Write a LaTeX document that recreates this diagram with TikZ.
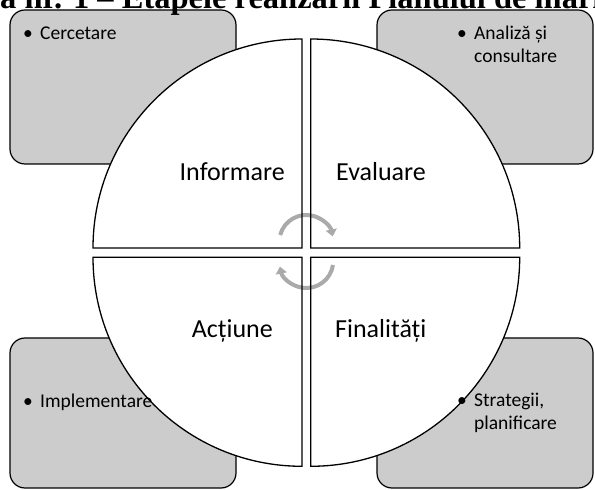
\documentclass[tikz,border=0pt]{standalone}
\usepackage{fontspec}
\setmainfont{Carlito}
\newfontfamily\titlefont{Liberation Serif}
\usetikzlibrary{arrows.meta}
\definecolor{boxgray}{RGB}{204,204,204}
\definecolor{arrowgray}{RGB}{170,170,170}
\begin{document}
\begin{tikzpicture}[x=1pt,y=1pt,
  card/.style={draw=black, line width=1.2pt, fill=boxgray, rounded corners=15pt},
  quadfill/.style={fill=white},
  quadline/.style={draw=black, line width=1.3pt, line join=miter},
  cyc/.style={draw=arrowgray, line width=4pt, -{Triangle[length=7pt,width=11pt]}},
  lbl/.style={inner sep=0pt, font=\fontsize{26}{31}\selectfont},
  item/.style={inner sep=0pt, align=left, font=\fontsize{19.5}{23}\selectfont},
  ttl/.style={inner sep=0pt, font=\titlefont\bfseries\fontsize{32.5}{38}\selectfont}]
\useasboundingbox (0,0) rectangle (595,490);
\clip (0,0) rectangle (595,490);
\fill[white] (0,0) rectangle (595,490);

% gray cards
\path[card] (10,480) rectangle (236,326);
\path[card] (377,480) rectangle (593,326);
\path[card] (10,152) rectangle (236,2);
\path[card] (377,152) rectangle (593,2);

% quadrants
\def\R{209}
\path[quadfill] (302,242) -- (302,451) arc (90:180:\R) -- cycle;
\path[quadfill] (310.7,242) -- (519.7,242) arc (0:90:\R) -- cycle;
\path[quadfill] (302,232.7) -- (93,232.7) arc (180:270:\R) -- cycle;
\path[quadfill] (310.7,232.7) -- (310.7,23.7) arc (270:360:\R) -- cycle;

% cycle arrows
\draw[cyc] (280.2,255) arc (165:12:27);
\draw[cyc] (333,225) arc (-8.5:-168:27);

\path[quadline] (302,242) -- (302,451) arc (90:180:\R) -- cycle;
\path[quadline] (310.7,242) -- (519.7,242) arc (0:90:\R) -- cycle;
\path[quadline] (302,232.7) -- (93,232.7) arc (180:270:\R) -- cycle;
\path[quadline] (310.7,232.7) -- (310.7,23.7) arc (270:360:\R) -- cycle;

% quadrant labels
\node[lbl, anchor=base east] (informare) at (285,309) {Informare};
\node[lbl, anchor=base west] (evaluare) at (336,309) {Evaluare};
\node[lbl, anchor=base east] (actiune) at (273,152) {Acțiune};
\node[lbl, anchor=base west] (finalitati) at (335,152) {Finalități};

% card texts (base anchor of a two-line node = baseline of its last line)
\node[item, anchor=base west] (cercetare) at (23,450) {\makebox[17pt][l]{•}Cercetare};
\node[item, anchor=base west] (analiza) at (457,427) {\makebox[17pt][l]{•}Analiză și\\\hspace*{17pt}consultare};
\node[item, anchor=base west] (implementare) at (23,82) {\makebox[17pt][l]{•}Implementare};
\node[item, anchor=base west] (strategii) at (457,60) {\makebox[17pt][l]{•}Strategii,\\\hspace*{17pt}planificare};

% title (cut by the top edge)
\node[ttl, anchor=base west] (title) at (-77.6,481.5) {Figura nr. 1 – Etapele realizării Planului de marketing};
\end{tikzpicture}
\end{document}
